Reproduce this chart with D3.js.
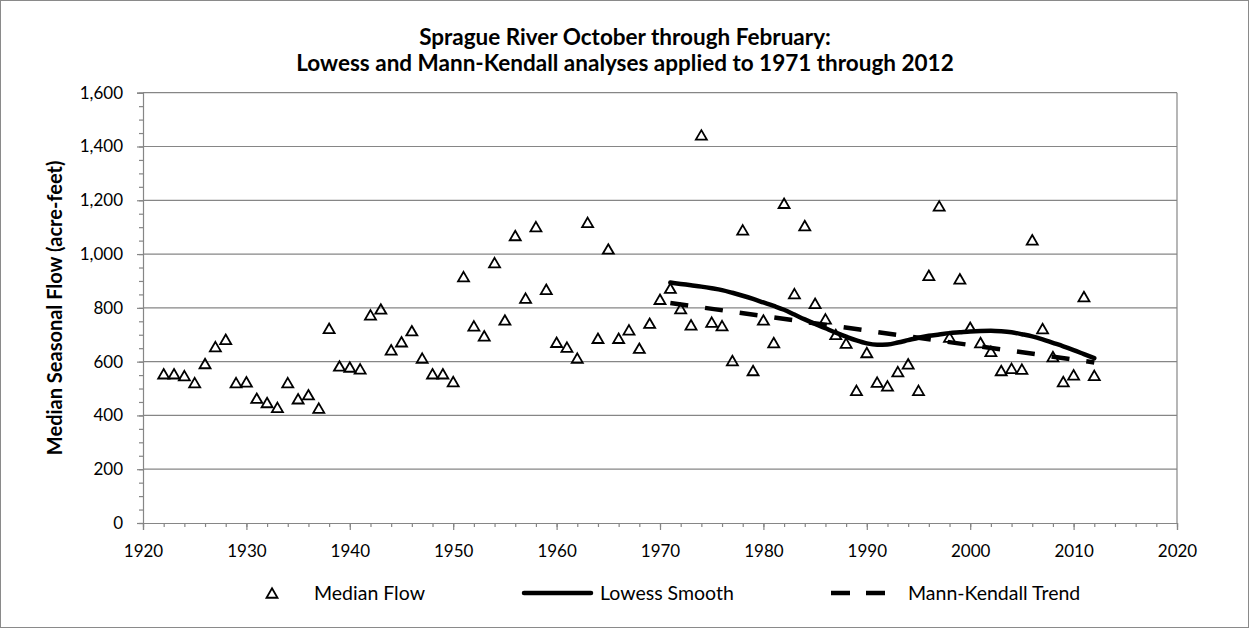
<!DOCTYPE html>
<html>
<head>
<meta charset="utf-8">
<script src="https://cdn.jsdelivr.net/npm/d3@7"></script>
<style>
  body { margin: 0; background: #fff; }
  svg { display: block; }
  text { font-family: Lato, "Open Sans", sans-serif; fill: #000; }
</style>
</head>
<body>
<svg id="chart" width="1249" height="628"></svg>
<script>
// Median seasonal flow, Sprague River, October–February (acre-feet)
const flowYears = [
  1922,1923,1924,1925,1926,1927,1928,1929,1930,1931,1932,1933,1934,1935,1936,1937,1938,1939,1940,1941,
  1942,1943,1944,1945,1946,1947,1948,1949,1950,1951,1952,1953,1954,1955,1956,1957,1958,1959,1960,1961,
  1962,1963,1964,1965,1966,1967,1968,1969,1970,1971,1972,1973,1974,1975,1976,1977,1978,1979,1980,1981,
  1982,1983,1984,1985,1986,1987,1988,1989,1990,1991,1992,1993,1994,1995,1996,1997,1998,1999,2000,2001,
  2002,2003,2004,2005,2006,2007,2008,2009,2010,2011,2012
];
const flowValues = [
  555,555,548,522,593,656,683,522,525,464,448,430,522,462,477,427,724,584,580,573,
  774,796,644,674,715,613,555,555,526,916,733,696,968,755,1069,836,1102,869,672,654,
  613,1118,687,1019,687,718,650,743,832,873,797,737,1443,747,734,604,1090,567,755,671,
  1189,853,1106,817,759,701,669,493,634,524,510,563,592,493,921,1179,691,908,728,671,
  638,567,575,572,1053,723,619,526,551,842,549
];

// Lowess smooth fitted to 1971–2012
const lowessYears = [
  1971,1972,1973,1974,1975,1976,1977,1978,1979,1980,1981,1982,1983,1984,1985,1986,1987,1988,1989,1990,1991,
  1992,1993,1994,1995,1996,1997,1998,1999,2000,2001,2002,2003,2004,2005,2006,2007,2008,2009,2010,2011,2012
];
const lowessValues = [
  894,889,884,879,873,866,856,845,833,820,807,793,775,757,740,724,708,693,679,668,663,
  664,671,680,689,696,701,706,709,712,714,715,713,709,702,694,683,670,657,643,628,613
];

// Mann-Kendall (Sen slope) trend line, 1971–2012
const trendYears = [1971, 2012];
const trendValues = [818, 597];

// Axis ticks and text
const yMajorTicks = [0,200,400,600,800,1000,1200,1400,1600];
const xMajorTicks = [1920,1930,1940,1950,1960,1970,1980,1990,2000,2010,2020];
const titleLines = [
  "Sprague River October through February:",
  "Lowess and Mann-Kendall analyses applied to 1971 through 2012"
];
const yTitle = "Median Seasonal Flow (acre-feet)";
const legendLabels = ["Median Flow", "Lowess Smooth", "Mann-Kendall Trend"];

const svg = d3.select("#chart");
const W = 1249, H = 628;
const axisGray = "#868686";

// chart frame
svg.append("rect")
  .attr("x", 0.5).attr("y", 0.5)
  .attr("width", W - 1).attr("height", H - 1)
  .attr("fill", "#fff").attr("stroke", "#8a8a8a").attr("stroke-width", 1);

const x = d3.scaleLinear().domain([1920, 2020]).range([143, 1177]);
const y = d3.scaleLinear().domain([0, 1600]).range([523, 92.7]);

// horizontal gridlines
svg.append("g").selectAll("line")
  .data(yMajorTicks.filter(d => d > 0))
  .join("line")
  .attr("x1", x(1920)).attr("x2", x(2020))
  .attr("y1", d => y(d)).attr("y2", d => y(d))
  .attr("stroke", axisGray).attr("stroke-width", 1.2);

// right edge of plot area
svg.append("line")
  .attr("x1", x(2020)).attr("x2", x(2020))
  .attr("y1", y(1600)).attr("y2", y(0))
  .attr("stroke", axisGray).attr("stroke-width", 1.2);

// y axis: minor ticks every 50, major every 200
const yMinor = d3.range(0, 1601, 50);
svg.append("g")
  .attr("transform", `translate(${x(1920)},0)`)
  .call(d3.axisLeft(y).tickValues(yMinor).tickSize(4).tickFormat(""))
  .call(g => g.select(".domain").remove())
  .call(g => g.selectAll("line").attr("stroke", axisGray).attr("stroke-width", 1.2));

const yAxisG = svg.append("g")
  .attr("transform", `translate(${x(1920)},0)`)
  .call(d3.axisLeft(y).tickValues(yMajorTicks).tickSize(6).tickPadding(14).tickFormat(d3.format(",")));
yAxisG.select(".domain").attr("stroke", axisGray).attr("stroke-width", 1.2);
yAxisG.selectAll("line").attr("stroke", axisGray).attr("stroke-width", 1.2);
yAxisG.selectAll("text")
  .attr("font-family", "Lato, sans-serif").attr("font-size", 17).attr("fill", "#000");

// x axis: minor ticks every 2 years, major every 10
const xMinor = d3.range(1920, 2021, 2);
svg.append("g")
  .attr("transform", `translate(0,${y(0)})`)
  .call(d3.axisBottom(x).tickValues(xMinor).tickSize(4).tickFormat(""))
  .call(g => g.select(".domain").remove())
  .call(g => g.selectAll("line").attr("stroke", axisGray).attr("stroke-width", 1.2));

const xAxisG = svg.append("g")
  .attr("transform", `translate(0,${y(0)})`)
  .call(d3.axisBottom(x).tickValues(xMajorTicks).tickSize(7).tickFormat(d3.format("d")));
xAxisG.select(".domain").attr("stroke", axisGray).attr("stroke-width", 1.2);
xAxisG.selectAll("line").attr("stroke", axisGray).attr("stroke-width", 1.2);
xAxisG.selectAll("text")
  .attr("y", 28).attr("dy", "0.35em")
  .attr("font-family", "Lato, sans-serif").attr("font-size", 17).attr("fill", "#000");

// triangle marker centred on its bounding box
const triW = 11, triH = 9.5;
const triPath = `M0,${-triH/2}L${triW/2},${triH/2}L${-triW/2},${triH/2}Z`;

svg.append("g").selectAll("path")
  .data(flowYears.map((yr, i) => ({ yr, v: flowValues[i] })))
  .join("path")
  .attr("transform", d => `translate(${x(d.yr)},${y(d.v)})`)
  .attr("d", triPath)
  .attr("fill", "none").attr("stroke", "#000").attr("stroke-width", 1.8)
  .attr("stroke-linejoin", "miter");

// Mann-Kendall trend (dashed)
const line = d3.line().x(d => x(d[0])).y(d => y(d[1]));
svg.append("path")
  .attr("d", line(trendYears.map((yr, i) => [yr, trendValues[i]])))
  .attr("fill", "none").attr("stroke", "#000").attr("stroke-width", 4.5)
  .attr("stroke-dasharray", "18,17").attr("stroke-linecap", "butt");

// Lowess smooth (solid)
svg.append("path")
  .attr("d", line.curve(d3.curveMonotoneX)(lowessYears.map((yr, i) => [yr, lowessValues[i]])))
  .attr("fill", "none").attr("stroke", "#000").attr("stroke-width", 4.5)
  .attr("stroke-linecap", "round").attr("stroke-linejoin", "round");

// title
svg.append("g").selectAll("text")
  .data(titleLines)
  .join("text")
  .attr("x", 625).attr("y", (d, i) => 37 + i * 26.5).attr("dy", "0.35em")
  .attr("text-anchor", "middle")
  .attr("font-size", 22.5).attr("font-weight", 700)
  .text(d => d);

// y axis title
svg.append("text")
  .attr("transform", `translate(55,${(y(0) + y(1600)) / 2}) rotate(-90)`)
  .attr("dy", "0.35em")
  .attr("text-anchor", "middle")
  .attr("font-size", 20).attr("font-weight", 700)
  .text(yTitle);

// legend
const legY = 593;
const leg = svg.append("g");
leg.append("path")
  .attr("transform", `translate(272,${legY})`)
  .attr("d", triPath)
  .attr("fill", "none").attr("stroke", "#000").attr("stroke-width", 1.8);
leg.append("text").attr("x", 314).attr("y", legY).attr("dy", "0.35em")
  .attr("font-size", 19.5).text(legendLabels[0]);

leg.append("line")
  .attr("x1", 524).attr("x2", 591).attr("y1", legY).attr("y2", legY)
  .attr("stroke", "#000").attr("stroke-width", 4.5).attr("stroke-linecap", "round");
leg.append("text").attr("x", 600).attr("y", legY).attr("dy", "0.35em")
  .attr("font-size", 19.5).text(legendLabels[1]);

leg.append("line")
  .attr("x1", 831).attr("x2", 886).attr("y1", legY).attr("y2", legY)
  .attr("stroke", "#000").attr("stroke-width", 4.5)
  .attr("stroke-dasharray", "19,16").attr("stroke-linecap", "butt");
leg.append("text").attr("x", 908).attr("y", legY).attr("dy", "0.35em")
  .attr("font-size", 19.5).text(legendLabels[2]);
</script>
</body>
</html>
